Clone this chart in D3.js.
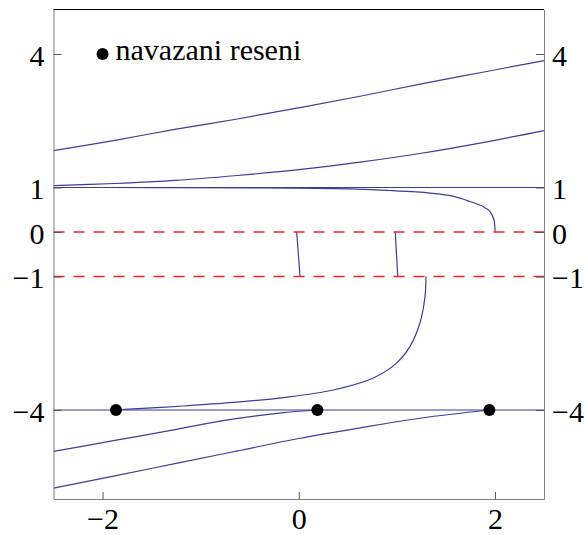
<!DOCTYPE html>
<html>
<head>
<meta charset="utf-8">
<script src="https://cdn.jsdelivr.net/npm/d3@7"></script>
<style>
  body { margin: 0; background: #fff; }
  svg { display: block; }
</style>
</head>
<body>
<div id="chart"></div>
<script>
// Ticks.
const xTicks = [-2, 0, 2];
const xTickLabels = ['\u22122', '0', '2'];
const yTicks = [4, 1, 0, -1, -4];
const yTickLabels = ['4', '1', '0', '\u22121', '\u22124'];

// Constant solutions and singular levels.
const solidLevels = [1, -4];
const dashedLevels = [0, -1];

// Solution curves as [x, y].
const curveTop = [[-2.5, 1.83], [-1.875, 2.06], [-1.25, 2.31], [-0.625, 2.54], [0, 2.79],
  [0.625, 3.05], [1.25, 3.33], [1.875, 3.59], [2.5, 3.85]];
const curveSecond = [[-2.5, 1.04], [-1.875, 1.09], [-1.25, 1.16], [-0.625, 1.27], [0, 1.40],
  [0.625, 1.57], [1.25, 1.77], [1.875, 2.01], [2.5, 2.28]];
const curveToZero = [[-2.5, 1.0], [-1.5, 0.999], [-0.5, 0.993], [0.5, 0.97], [0.93, 0.933],
  [1.2, 0.9], [1.44, 0.85], [1.6, 0.79], [1.746, 0.686], [1.878, 0.574], [1.95, 0.46],
  [1.99, 0.275], [2.0, 0.0]];
const segmentA = [[-0.021, 0], [0.013, -1]];
const segmentB = [[0.984, 0], [1.009, -1]];
const curveFromMinusFour = [[-1.863, -4], [-1.687, -3.975], [-1.177, -3.91], [-0.667, -3.83],
  [-0.157, -3.72], [0.352, -3.55], [0.76, -3.28], [0.999, -2.94], [1.134, -2.57],
  [1.236, -2.04], [1.287, -1.45], [1.297, -1]];
const curveLowA = [[-2.5, -4.93], [-1.89, -4.69], [-1.26, -4.44], [-0.77, -4.24],
  [-0.157, -4.06], [0.19, -4.0]];
const curveLowB = [[-2.5, -5.756], [-1.875, -5.48], [-1.25, -5.20], [-0.625, -4.92],
  [0, -4.64], [0.625, -4.40], [1.25, -4.18], [1.943, -4.0]];

// Joined points and legend.
const joinPoints = [[-1.863, -4], [0.19, -4], [1.943, -4]];
const legendPoint = [-2, 4];
const legendText = 'navazani reseni';

const blue = '#3d3d99';
const font = '"Liberation Serif", "Times New Roman", serif';

// Dimensions.
const margin = { top: 9.5, right: 40, bottom: 36, left: 53.5 };
const width = 584 - margin.left - margin.right;
const height = 535 - margin.top - margin.bottom;

const xScale = d3.scaleLinear().domain([-2.5, 2.5]).range([0, width]);
const yScale = d3.scaleLinear().domain([-6, 5]).range([height, 0]);

const svg = d3.select('#chart')
  .append('svg')
  .attr('width', 584)
  .attr('height', 535)
  .append('g')
  .attr('transform', `translate(${margin.left}, ${margin.top})`);

const lineGen = d3.line()
  .x(d => xScale(d[0]))
  .y(d => yScale(d[1]))
  .curve(d3.curveCatmullRom.alpha(0.5));

// Horizontal solutions.
svg.selectAll('.level')
  .data(solidLevels)
  .enter()
  .append('line')
  .attr('x1', 0)
  .attr('x2', width)
  .attr('y1', d => yScale(d))
  .attr('y2', d => yScale(d))
  .style('stroke', blue)
  .style('stroke-width', 1.2);

// Curves.
const curves = [curveTop, curveSecond, curveToZero, segmentA, segmentB,
  curveFromMinusFour, curveLowA, curveLowB];

svg.selectAll('.curve')
  .data(curves)
  .enter()
  .append('path')
  .attr('class', 'curve')
  .attr('d', d => lineGen(d))
  .style('fill', 'none')
  .style('stroke', blue)
  .style('stroke-width', 1.2);

// Dashed levels.
svg.selectAll('.dashed')
  .data(dashedLevels)
  .enter()
  .append('line')
  .attr('x1', 0)
  .attr('x2', width)
  .attr('y1', d => yScale(d))
  .attr('y2', d => yScale(d))
  .style('stroke', '#ff2020')
  .style('stroke-width', 1.3)
  .style('stroke-dasharray', '11,9');

// Points.
svg.selectAll('.pt')
  .data(joinPoints.concat([legendPoint]))
  .enter()
  .append('circle')
  .attr('cx', d => xScale(d[0]))
  .attr('cy', d => yScale(d[1]))
  .attr('r', 6)
  .style('fill', '#000');

svg.append('text')
  .attr('x', xScale(legendPoint[0]) + 13)
  .attr('y', yScale(legendPoint[1]) + 6)
  .style('font-family', font)
  .style('font-size', '30px')
  .style('fill', '#000')
  .text(legendText);

// Axes.
const axisColor = '#808080';

function styleAxis(g) {
  g.attr('font-family', null).attr('font-size', null);
  g.select('.domain').style('stroke', axisColor);
  g.selectAll('.tick line').style('stroke', '#555');
  g.selectAll('.tick text')
    .style('font-family', font)
    .style('font-size', '30px')
    .style('fill', '#000');
}

const yAxisLeft = d3.axisLeft(yScale)
  .tickValues(yTicks)
  .tickFormat((d, i) => yTickLabels[i])
  .tickSizeInner(-8)
  .tickSizeOuter(0)
  .tickPadding(9);

svg.append('g')
  .call(yAxisLeft)
  .call(styleAxis)
  .selectAll('.tick text').attr('dy', '0.38em');

const yAxisRight = d3.axisRight(yScale)
  .tickValues(yTicks)
  .tickFormat((d, i) => yTickLabels[i])
  .tickSizeInner(-8)
  .tickSizeOuter(0)
  .tickPadding(8);

svg.append('g')
  .attr('transform', `translate(${width}, 0)`)
  .call(yAxisRight)
  .call(styleAxis)
  .selectAll('.tick text').attr('dy', '0.38em');

const xAxis = d3.axisBottom(xScale)
  .tickValues(xTicks)
  .tickFormat((d, i) => xTickLabels[i])
  .tickSizeInner(-7)
  .tickSizeOuter(0)
  .tickPadding(9);

svg.append('g')
  .attr('transform', `translate(0, ${height})`)
  .call(xAxis)
  .call(styleAxis);

// Top frame.
svg.append('line')
  .attr('x1', 0)
  .attr('x2', width)
  .attr('y1', 0)
  .attr('y2', 0)
  .style('stroke', '#000')
  .style('stroke-width', 1);
</script>
</body>
</html>
